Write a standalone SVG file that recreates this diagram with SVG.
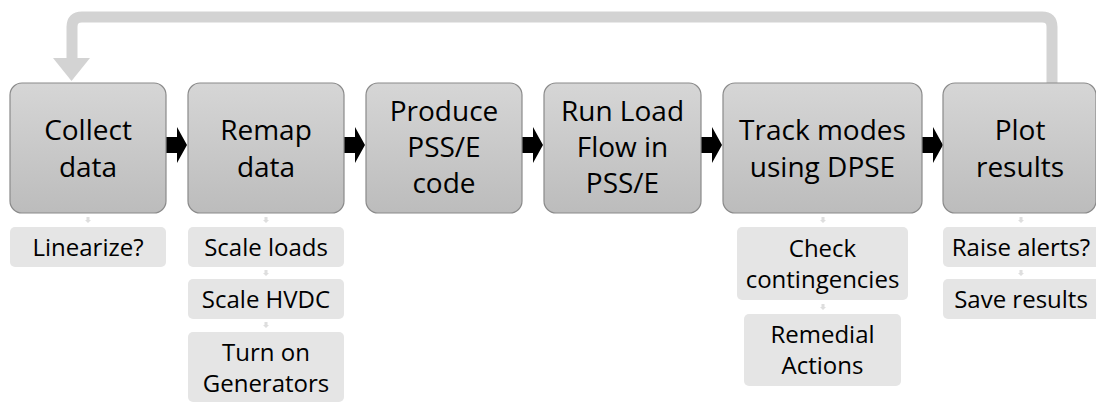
<svg xmlns="http://www.w3.org/2000/svg" width="1096" height="403" viewBox="0 0 1096 403">
<defs>
<linearGradient id="g" x1="0" y1="0" x2="0" y2="1">
<stop offset="0" stop-color="#d6d6d6"/>
<stop offset="1" stop-color="#bcbcbc"/>
</linearGradient>
<path id="blk" d="M0,-8 L11,-8 L11,-18 L21,0 L11,18 L11,8 L0,8 Z"/>
<path id="sm" d="M-1.5,0 L1.5,0 L1.5,3 L3,3 L0,6 L-3,3 L-1.5,3 Z"/>
</defs>
<style>
.main{fill:url(#g);stroke:#8a8a8a;stroke-width:1.2}
.sub{fill:#e5e5e5}
.t{font-family:"Open Sans","Liberation Sans",sans-serif;fill:#000;text-anchor:middle}
.big{font-size:28px}
.sml{font-size:24px}
.fb{fill:none;stroke:#d3d3d3;stroke-width:11}
.arr{fill:#000}
.smarr{fill:#dedede}
</style>
<rect width="1096" height="403" fill="#fff"/>
<g id="connectors">
<path class="fb" d="M1052,84 L1052,27 Q1052,17 1042,17 L82,17 Q72,17 72,27 L72,60"/>
<polygon points="53,58 90,58 71.5,81" fill="#d3d3d3"/>
<use href="#blk" class="arr" x="166" y="145"/>
<use href="#blk" class="arr" x="344" y="145"/>
<use href="#blk" class="arr" x="522" y="145"/>
<use href="#blk" class="arr" x="701" y="145"/>
<use href="#blk" class="arr" x="922" y="145"/>
<use href="#sm" class="smarr" x="88" y="217"/>
<use href="#sm" class="smarr" x="266" y="217"/>
<use href="#sm" class="smarr" x="266" y="270"/>
<use href="#sm" class="smarr" x="266" y="322"/>
<use href="#sm" class="smarr" x="823" y="217"/>
<use href="#sm" class="smarr" x="823" y="304"/>
<use href="#sm" class="smarr" x="1021" y="217"/>
<use href="#sm" class="smarr" x="1021" y="270"/>
</g>
<g id="collect">
<rect class="main" x="10" y="83" width="156" height="130" rx="12"/>
<text class="t big" x="88" y="140">Collect</text>
<text class="t big" x="88" y="177">data</text>
</g>
<g id="remap">
<rect class="main" x="188" y="83" width="156" height="130" rx="12"/>
<text class="t big" x="266" y="140">Remap</text>
<text class="t big" x="266" y="177">data</text>
</g>
<g id="produce">
<rect class="main" x="366" y="83" width="156" height="130" rx="12"/>
<text class="t big" x="444" y="121">Produce</text>
<text class="t big" x="444" y="157">PSS/E</text>
<text class="t big" x="444" y="193">code</text>
</g>
<g id="runload">
<rect class="main" x="544" y="83" width="157" height="130" rx="12"/>
<text class="t big" x="622.5" y="121">Run Load</text>
<text class="t big" x="622.5" y="157">Flow in</text>
<text class="t big" x="622.5" y="193">PSS/E</text>
</g>
<g id="track">
<rect class="main" x="723" y="83" width="199" height="130" rx="12"/>
<text class="t big" x="822.5" y="140">Track modes</text>
<text class="t big" x="822.5" y="177">using DPSE</text>
</g>
<g id="plot">
<rect class="main" x="943" y="83" width="153" height="130" rx="12"/>
<text class="t big" x="1020" y="140">Plot</text>
<text class="t big" x="1020" y="177">results</text>
</g>
<g id="linearize">
<rect class="sub" x="10" y="227" width="156" height="40" rx="5"/>
<text class="t sml" x="88" y="255.5">Linearize?</text>
</g>
<g id="scaleloads">
<rect class="sub" x="188" y="227" width="156" height="40" rx="5"/>
<text class="t sml" x="266" y="255.5">Scale loads</text>
</g>
<g id="scalehvdc">
<rect class="sub" x="188" y="279" width="156" height="40" rx="5"/>
<text class="t sml" x="266" y="307.5">Scale HVDC</text>
</g>
<g id="turnon">
<rect class="sub" x="188" y="332" width="156" height="70" rx="5"/>
<text class="t sml" x="266" y="361">Turn on</text>
<text class="t sml" x="266" y="392">Generators</text>
</g>
<g id="check">
<rect class="sub" x="737" y="227" width="171" height="73" rx="5"/>
<text class="t sml" x="822.5" y="257">Check</text>
<text class="t sml" x="822.5" y="288">contingencies</text>
</g>
<g id="remedial">
<rect class="sub" x="744" y="314" width="157" height="72" rx="5"/>
<text class="t sml" x="822.5" y="343">Remedial</text>
<text class="t sml" x="822.5" y="374">Actions</text>
</g>
<g id="raise">
<rect class="sub" x="943" y="227" width="160" height="40" rx="5"/>
<text class="t sml" x="1021" y="255.5">Raise alerts?</text>
</g>
<g id="save">
<rect class="sub" x="943" y="279" width="160" height="40" rx="5"/>
<text class="t sml" x="1021" y="307.5">Save results</text>
</g>
</svg>
